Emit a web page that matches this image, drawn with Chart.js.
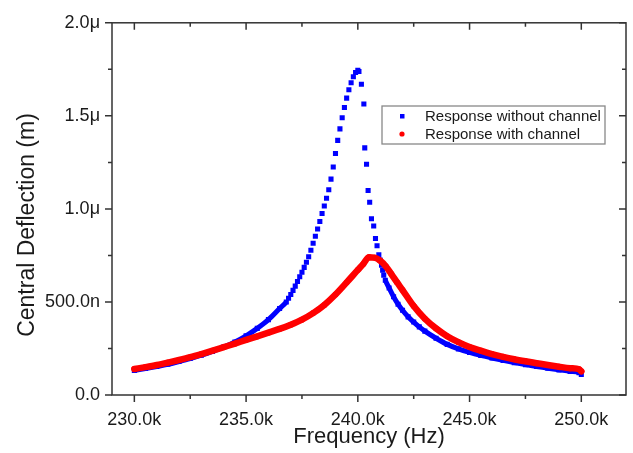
<!DOCTYPE html>
<html>
<head>
<meta charset="utf-8">
<script src="https://cdn.jsdelivr.net/npm/chart.js"></script>
<style>
    html, body { margin: 0; padding: 0; background: #fff; }
    #wrap { width: 633px; height: 453px; }
</style>
</head>
<body>
<div id="wrap"><canvas id="myChart" width="633" height="453"></canvas></div>
<script>
// frequency in kHz, central deflection in nm

var freqWithout = [230, 230.5, 231, 231.5, 232, 232.5, 233, 233.5, 234, 234.5, 235, 235.5, 236, 236.5,
    236.8, 236.9, 237.0, 237.1, 237.2, 237.3, 237.4, 237.5, 237.6, 237.7, 237.8, 237.9, 238.0, 238.1,
    238.2, 238.3, 238.4, 238.5, 238.6, 238.7, 238.8, 238.9, 239.0, 239.1, 239.2, 239.3, 239.4, 239.5,
    239.6, 239.7, 239.8, 239.9, 240.0, 240.05,
    240.16, 240.27, 240.31, 240.39, 240.46, 240.53, 240.61, 240.71, 240.79, 240.86, 240.94, 241.0,
    241.06, 241.11, 241.16, 241.23,
    241.4, 241.6, 241.8, 242.0, 242.25, 242.5, 242.75, 243.0, 243.5, 244.0, 244.5, 245.0, 245.5,
    246.0, 246.5, 247.0, 247.5, 248.0, 248.5, 249.0, 249.5, 249.9, 250.0];

var deflWithout = [132, 142, 153, 165, 180, 196, 214, 234, 258, 285, 318, 358, 405, 465,
    500, 520, 540, 562, 585, 610, 635, 660, 686, 713, 743, 778, 815, 853,
    892, 932, 975, 1016, 1057, 1103, 1160, 1225, 1298, 1368, 1430, 1490, 1545, 1595,
    1640, 1678, 1710, 1733, 1745, 1738,
    1670, 1564, 1328, 1240, 1099, 1036, 947, 908, 841, 802, 753, 725,
    697, 670, 644, 617,
    575, 528, 488, 455, 420, 392, 366, 343, 305, 272, 248, 229, 213,
    199, 186, 174, 163, 153, 144, 135, 127, 120, 110];

var freqWith = [230, 230.5, 231, 231.5, 232, 232.5, 233, 233.5, 234, 234.5, 235, 235.5, 236, 236.5,
    237, 237.5, 238, 238.5, 239, 239.5, 240, 240.25, 240.5, 240.75, 241, 241.25, 241.5, 241.75,
    242, 242.5, 243, 243.5, 244, 244.5, 245, 245.5, 246, 246.5, 247, 247.5, 248, 248.5,
    249, 249.5, 249.9, 250];

var deflWith = [140, 150, 161, 174, 188, 203, 220, 238, 257, 276, 296, 315, 335, 355,
    378, 405, 440, 484, 540, 605, 672, 705, 740, 738, 722, 692, 650, 606,
    564, 478, 410, 358, 316, 284, 258, 238, 220, 205, 192, 181, 171, 161,
    152, 144, 138, 127];

var xMajorTicks = [230, 235, 240, 245, 250];
var xMajorLabels = ['230.0k', '235.0k', '240.0k', '245.0k', '250.0k'];
var xMinorTicks = [232.5, 237.5, 242.5, 247.5];

var yMajorTicks = [0, 500, 1000, 1500, 2000];
var yMajorLabels = ['0.0', '500.0n', '1.0\u03bc', '1.5\u03bc', '2.0\u03bc'];
var yMinorTicks = [250, 750, 1250, 1750];

var yTitle = 'Central Deflection (m)';

var blue = '#0000ff';
var red = '#ff0000';
var axisColor = '#333333';
var textColor = '#1a1a1a';
var fontFamily = "'Liberation Sans', Arial, sans-serif";

function toPoints(xs, ys) {
    return xs.map(function (x, i) { return { x: x, y: ys[i] }; });
}

// box with ticks on all four sides (out on bottom/left, in on top/right)
var framePlugin = {
    id: 'frame',
    afterDraw: function (chart) {
        var ctx = chart.ctx;
        var a = chart.chartArea;
        var xs = chart.scales.x, ys = chart.scales.y;
        ctx.save();
        ctx.strokeStyle = axisColor;
        ctx.lineWidth = 1.5;
        ctx.strokeRect(a.left, a.top, a.right - a.left, a.bottom - a.top);
        ctx.beginPath();
        function xt(v, len) {
            var px = xs.getPixelForValue(v);
            ctx.moveTo(px, a.bottom); ctx.lineTo(px, a.bottom + len);
            ctx.moveTo(px, a.top); ctx.lineTo(px, a.top + len);
        }
        function yt(v, len) {
            var py = ys.getPixelForValue(v);
            ctx.moveTo(a.left - len, py); ctx.lineTo(a.left, py);
            ctx.moveTo(a.right - len, py); ctx.lineTo(a.right, py);
        }
        xMajorTicks.forEach(function (v) { xt(v, 7); });
        xMinorTicks.forEach(function (v) { xt(v, 4); });
        yMajorTicks.forEach(function (v) { yt(v, 7); });
        yMinorTicks.forEach(function (v) { yt(v, 4); });
        ctx.stroke();

        // y title sits a bit below the middle of the axis in the original
        ctx.translate(33.5, 225);
        ctx.rotate(-Math.PI / 2);
        ctx.font = '23px ' + fontFamily;
        ctx.fillStyle = textColor;
        ctx.textAlign = 'center';
        ctx.textBaseline = 'alphabetic';
        ctx.fillText(yTitle, 0, 0);
        ctx.restore();
    }
};

// boxed legend inside the plot
var legendPlugin = {
    id: 'boxLegend',
    afterDraw: function (chart) {
        var ctx = chart.ctx;
        var bx = 382, by = 106, bw = 223, bh = 38;
        ctx.save();
        ctx.fillStyle = '#ffffff';
        ctx.fillRect(bx, by, bw, bh);
        ctx.strokeStyle = '#888888';
        ctx.lineWidth = 1.3;
        ctx.strokeRect(bx, by, bw, bh);
        ctx.font = '15px ' + fontFamily;
        ctx.textBaseline = 'middle';
        chart.data.datasets.forEach(function (ds, i) {
            var cy = by + 10 + i * 18;
            ctx.fillStyle = ds.backgroundColor;
            if (ds.pointStyle === 'rect') {
                ctx.fillRect(bx + 18, cy - 2, 4.5, 4.5);
            } else {
                ctx.beginPath();
                ctx.arc(bx + 20, cy, 2.6, 0, Math.PI * 2);
                ctx.fill();
            }
            ctx.fillStyle = textColor;
            ctx.fillText(ds.label, bx + 43, cy + 1);
        });
        ctx.restore();
    }
};

var ctx = document.getElementById('myChart').getContext('2d');
var myChart = new Chart(ctx, {
    type: 'scatter',
    data: {
        datasets: [{
            label: 'Response without channel',
            data: toPoints(freqWithout, deflWithout),
            backgroundColor: blue,
            borderColor: blue,
            pointStyle: 'rect',
            pointRadius: 3.6,
            pointBorderWidth: 0,
            showLine: true,
            borderWidth: 5,
            borderJoinStyle: 'round',
            cubicInterpolationMode: 'monotone',
            // only the coarse (dense-looking) stretches are joined
            segment: {
                borderColor: function (c) {
                    return (c.p1.parsed.x - c.p0.parsed.x > 0.15) ? blue : 'rgba(0,0,0,0)';
                }
            },
            order: 2
        }, {
            label: 'Response with channel',
            data: toPoints(freqWith, deflWith),
            backgroundColor: red,
            borderColor: red,
            pointStyle: 'circle',
            pointRadius: 3,
            pointBorderWidth: 0,
            showLine: true,
            borderWidth: 6.5,
            borderJoinStyle: 'round',
            borderCapStyle: 'round',
            cubicInterpolationMode: 'monotone',
            order: 1
        }]
    },
    options: {
        responsive: false,
        animation: false,
        layout: { padding: { left: 0, right: 7, top: 17, bottom: 0 } },
        plugins: {
            legend: { display: false },
            tooltip: { enabled: false }
        },
        scales: {
            x: {
                type: 'linear',
                min: 229,
                max: 252,
                afterBuildTicks: function (scale) {
                    scale.ticks = xMajorTicks.map(function (v) { return { value: v }; });
                },
                afterFit: function (scale) { scale.height = 58; },
                grid: { display: false, drawTicks: false },
                border: { display: false },
                ticks: {
                    autoSkip: false,
                    maxRotation: 0,
                    padding: 14,
                    color: textColor,
                    font: { family: fontFamily, size: 18 },
                    callback: function (value, index) { return xMajorLabels[index]; }
                },
                title: {
                    display: true,
                    text: 'Frequency (Hz)',
                    color: textColor,
                    font: { family: fontFamily, size: 22 },
                    padding: { top: 0, bottom: 3 }
                }
            },
            y: {
                type: 'linear',
                min: 0,
                max: 2000,
                afterBuildTicks: function (scale) {
                    scale.ticks = yMajorTicks.map(function (v) { return { value: v }; });
                },
                afterFit: function (scale) { scale.width = 112; },
                grid: { display: false, drawTicks: false },
                border: { display: false },
                ticks: {
                    autoSkip: false,
                    padding: 12,
                    color: textColor,
                    font: { family: fontFamily, size: 18 },
                    callback: function (value, index) { return yMajorLabels[index]; }
                }
            }
        }
    },
    plugins: [framePlugin, legendPlugin]
});
</script>
</body>
</html>
